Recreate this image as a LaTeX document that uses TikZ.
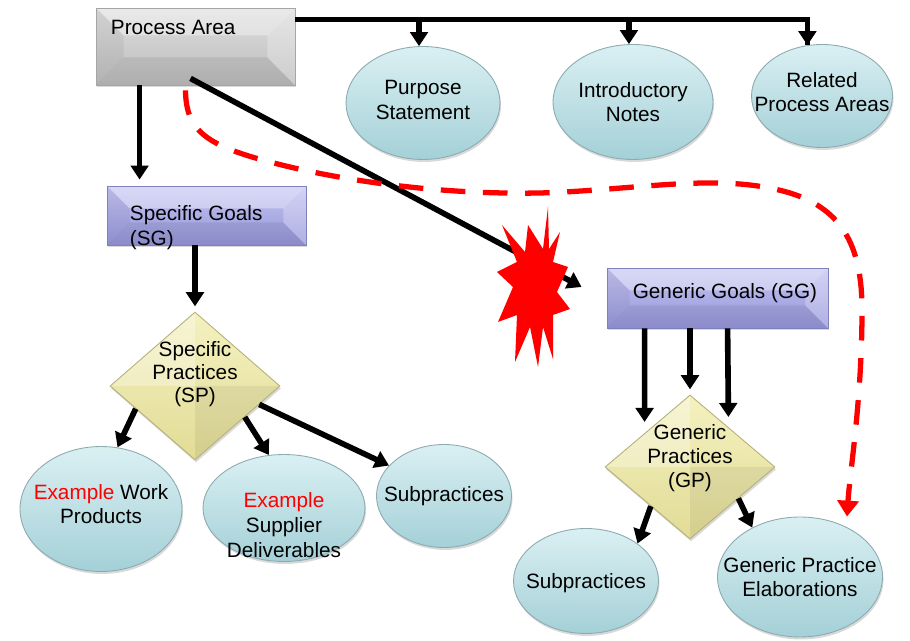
\documentclass[tikz,border=0pt]{standalone}
\usepackage{fontspec}
\setmainfont{Liberation Sans}
\usetikzlibrary{arrows.meta,calc,shapes.geometric,shadows}

\definecolor{bubtop}{RGB}{218,240,243}
\definecolor{bubbot}{RGB}{164,208,215}
\definecolor{bubline}{RGB}{140,170,176}
\definecolor{areatop}{RGB}{222,222,222}
\definecolor{areabot}{RGB}{188,188,188}
\definecolor{goaltop}{RGB}{196,196,242}
\definecolor{goalbot}{RGB}{150,150,218}
\definecolor{goalline}{RGB}{128,128,188}
\definecolor{gemtop}{RGB}{244,241,192}
\definecolor{gembot}{RGB}{226,220,150}

\begin{document}
\begin{tikzpicture}[
  x=0.02cm, y=-0.02cm,
  txt/.style={font=\fontsize{11.8}{14}\selectfont, align=center, inner sep=0pt},
  shade/.style={drop shadow={opacity=.3, shadow xshift=.6pt, shadow yshift=-1.4pt}},
  bevel/.style={path picture={
    \fill[white, opacity=.35] (path picture bounding box.north west) -- (path picture bounding box.north east)
      -- ++(-#1,-#1) -- ($(path picture bounding box.north west)+(#1,-#1)$) -- cycle;
    \fill[black, opacity=.07] (path picture bounding box.south west) -- (path picture bounding box.south east)
      -- ++(-#1,#1) -- ($(path picture bounding box.south west)+(#1,#1)$) -- cycle;
    \fill[black, opacity=.05] (path picture bounding box.north west) -- (path picture bounding box.south west)
      -- ++(#1,#1) -- ($(path picture bounding box.north west)+(#1,-#1)$) -- cycle;
    \fill[white, opacity=.25] (path picture bounding box.north east) -- (path picture bounding box.south east)
      -- ++(-#1,#1) -- ($(path picture bounding box.north east)+(-#1,-#1)$) -- cycle;}},
  areabox/.style={rectangle, draw=gray!70, line width=.5pt, top color=areatop, bottom color=areabot, bevel=0.55cm, shade, inner sep=0pt},
  goalbox/.style={rectangle, draw=goalline, line width=.5pt, top color=goaltop, bottom color=goalbot, bevel=0.45cm, shade, inner sep=0pt},
  gem/.style={diamond, draw=gembot!80!black, line width=.5pt, top color=gemtop, bottom color=gembot, shade, inner sep=0pt,
    path picture={
      \fill[white, opacity=.3] (path picture bounding box.center) -- (path picture bounding box.north) -- (path picture bounding box.west) -- cycle;
      \fill[black, opacity=.06] (path picture bounding box.center) -- (path picture bounding box.south) -- (path picture bounding box.east) -- cycle;}},
  bubble/.style={ellipse, draw=bubline, line width=.5pt, top color=bubtop, bottom color=bubbot, shade, inner sep=0pt},
  arrow/.style={-{Triangle[length=8pt,width=10pt]}, line width=3.2pt},
  lead/.style={red, line width=3pt, dash pattern=on 14pt off 10pt, -{Triangle[length=9pt,width=12pt]}}
]
\useasboundingbox (0,0) rectangle (910,641);

% boxes
\node[areabox, minimum width=3.98cm, minimum height=1.54cm,
  label={[txt, anchor=west, xshift=.3cm, yshift=-.4cm]north west:Process Area}] (pa) at (195.5,46.5) {};
\node[goalbox, minimum width=3.98cm, minimum height=1.18cm,
  label={[txt, align=left, anchor=west, xshift=.46cm, yshift=-.24cm]west:{Specific Goals\\(SG)}}] (sg) at (206.5,215.5) {};
\node[goalbox, minimum width=4.42cm, minimum height=1.2cm,
  label={[txt, xshift=.15cm, yshift=.1cm]center:Generic Goals (GG)}] (gg) at (717.5,298) {};

% practices
\node[gem, minimum width=3.4cm, minimum height=2.96cm,
  label={[txt, font=\fontsize{11.8}{13}\selectfont, yshift=.24cm]center:{Specific\\Practices\\(SP)}}] (sp) at (195,386) {};
\node[gem, minimum width=3.4cm, minimum height=2.88cm,
  label={[txt, font=\fontsize{11.8}{13.5}\selectfont, yshift=.18cm]center:{Generic\\Practices\\(GP)}}] (gp) at (690,467) {};

% ellipses
\node[bubble, minimum width=3.08cm, minimum height=2.26cm,
  label={[txt, yshift=.06cm]center:{Purpose\\Statement}}] (ps) at (423,103) {};
\node[bubble, minimum width=3.2cm, minimum height=2.3cm,
  label={[txt]center:{Introductory\\Notes}}] (intro) at (633,102) {};
\node[bubble, minimum width=2.82cm, minimum height=2.06cm,
  label={[txt, yshift=.08cm]center:{Related\\Process Areas}}] (rpa) at (822,96) {};
\node[bubble, minimum width=3.24cm, minimum height=2.5cm,
  label={[txt, yshift=.1cm]center:{\textcolor{red}{Example} Work\\Products}}] (ewp) at (101,509) {};
\node[bubble, minimum width=3.24cm, minimum height=2.14cm,
  label={[txt, yshift=-.34cm]center:{\textcolor{red}{Example}\\Supplier\\Deliverables}}] (esd) at (284,508) {};
\node[bubble, minimum width=2.7cm, minimum height=2.06cm,
  label={[txt]center:Subpractices}] (subl) at (444,496) {};
\node[bubble, minimum width=2.9cm, minimum height=2.1cm,
  label={[txt, yshift=-.04cm]center:Subpractices}] (subr) at (586,581) {};
\node[bubble, minimum width=3.3cm, minimum height=2.4cm,
  label={[txt]center:{Generic Practice\\Elaborations}}] (gpe) at (800,577) {};

% connectors
\coordinate (bar) at ($(pa.north east)+(0,12)$);
\draw[line width=3.2pt] (bar) -| (rpa.106);
\draw[arrow] ($(rpa.106 |- bar)+(0,1)$) -- (rpa.106);
\draw[arrow] (bar -| ps.94) -- (ps.94);
\draw[arrow] (bar -| intro.94) -- (intro.94);
\draw[arrow] ($(pa.south west)+(44,0)$) -- ($(sg.north west)+(33,-6)$);
\draw[arrow] ($(pa.south)+(-5,-7)$) -- ($(gg.west)+(-25,-11)$);
\draw[arrow, shorten >=3pt] (sg.south -| sp.north) -- (sp.north);
\draw[arrow] (sp.201) -- (ewp.75);
\draw[arrow] (sp.328) -- (esd.106);
\draw[arrow] (sp.344) -- (subl.151);
\draw[arrow] ($(gg.south west)+(38,0)$) -- ($(gp.west)+(40,-45)$);
\draw[arrow, shorten >=3pt] (gg.south -| gp.north) -- (gp.north);
\draw[arrow] ($(gg.south west)+(121,0)$) -- ($(gp.east)+(-47,-50)$);
\draw[arrow] (gp.225) -- (subr.36);
\draw[arrow] (gp.327) -- (gpe.134);

% burst
\coordinate (boom) at (535,287);
\fill[red, shift={(boom)}] (13,-80) -- (8,-38) -- (-7,-62) -- (-10,-35) -- (-33,-62) -- (-18,-25)
  -- (-38,-15) -- (-22,0) -- (-37,35) -- (-18,28) -- (-20,75) -- (-5,40) -- (3,80) -- (8,40)
  -- (18,72) -- (18,28) -- (35,22) -- (22,5) -- (33,-20) -- (18,-25) -- (25,-55) -- (14,-38) -- cycle;

% dashed link
\draw[lead] ($(pa.south)+(-10,5)$) .. controls (186,130) and (205,145) .. (270,162)
  .. controls (330,178) and (430,195) .. (540,193)
  .. controls (640,190) and (720,172) .. (790,193)
  .. controls (845,210) and (862,250) .. (862,310)
  .. controls (862,400) and (850,470) .. ($(gpe.52)+(6,-8)$);
\end{tikzpicture}
\end{document}
